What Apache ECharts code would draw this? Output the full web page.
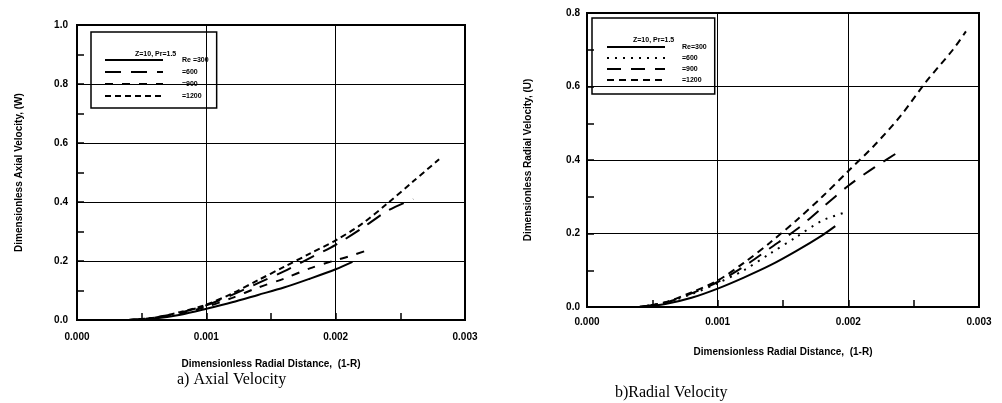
<!DOCTYPE html>
<html>
<head>
<meta charset="utf-8">
<script src="https://cdn.jsdelivr.net/npm/echarts@6/dist/echarts.min.js"></script>
<style>
  html, body { margin: 0; padding: 0; background: #fff; }
  #wrap { position: relative; width: 1002px; height: 403px; }
  .panel { position: absolute; top: 0; height: 403px; }
  #axial { left: 0; width: 500px; }
  #radial { left: 500px; width: 502px; }
</style>
</head>
<body>
<div id="wrap">
  <div id="axial" class="panel"></div>
  <div id="radial" class="panel"></div>
</div>
<script>
// values, [1-R, velocity]
const legendTitle = 'Z=10, Pr=1.5'
const reLabelsA = ['Re =300', '=600', '=900', '=1200']
const reLabelsB = ['Re=300', '=600', '=900', '=1200']
const xTicks = [0, 0.001, 0.002, 0.003]

const axialRe300 = [[0.0004, 0], [0.0006, 0.005], [0.0008, 0.018], [0.001, 0.038], [0.0012, 0.06], [0.0014, 0.085], [0.0016, 0.11], [0.0018, 0.14], [0.002, 0.172], [0.00213, 0.197]]
const axialRe600 = [[0.0004, 0], [0.0006, 0.008], [0.0008, 0.025], [0.001, 0.05], [0.0012, 0.085], [0.0014, 0.125], [0.0016, 0.165], [0.0018, 0.21], [0.002, 0.255], [0.0022, 0.31], [0.0024, 0.37], [0.0026, 0.41]]
const axialRe900 = [[0.0004, 0], [0.0006, 0.007], [0.0008, 0.022], [0.001, 0.045], [0.0012, 0.075], [0.0014, 0.11], [0.0016, 0.14], [0.0018, 0.175], [0.002, 0.203], [0.0021, 0.215], [0.00225, 0.237]]
const axialRe1200 = [[0.0004, 0], [0.0006, 0.008], [0.0008, 0.027], [0.001, 0.052], [0.0012, 0.09], [0.0014, 0.135], [0.0016, 0.18], [0.0018, 0.225], [0.002, 0.27], [0.0022, 0.325], [0.0024, 0.395], [0.0026, 0.47], [0.0028, 0.545]]

const radialRe300 = [[0.0004, 0], [0.0006, 0.008], [0.0008, 0.025], [0.001, 0.05], [0.0012, 0.08], [0.0014, 0.113], [0.0016, 0.152], [0.0018, 0.195], [0.0019, 0.22]]
const radialRe600 = [[0.0004, 0], [0.0006, 0.012], [0.0008, 0.035], [0.001, 0.065], [0.0012, 0.1], [0.0014, 0.145], [0.0016, 0.19], [0.0018, 0.235], [0.002, 0.26]]
const radialRe900 = [[0.0004, 0], [0.0006, 0.012], [0.0008, 0.037], [0.001, 0.068], [0.0012, 0.11], [0.0014, 0.16], [0.0016, 0.21], [0.0018, 0.27], [0.002, 0.33], [0.0022, 0.38], [0.00242, 0.43]]
const radialRe1200 = [[0.0004, 0], [0.0006, 0.013], [0.0008, 0.04], [0.001, 0.072], [0.0012, 0.12], [0.0014, 0.175], [0.0016, 0.235], [0.0018, 0.3], [0.002, 0.37], [0.0022, 0.44], [0.0024, 0.52], [0.0026, 0.615], [0.0028, 0.7], [0.0029, 0.75]]

const FONT = 'Liberation Sans'

function lineSeries(name, data, type) {
  return {
    name,
    type: 'line',
    data,
    symbol: 'none',
    smooth: 0.3,
    color: '#000',
    lineStyle: { color: '#000', width: 2, type }
  }
}

function buildOption(cfg) {
  return {
    animation: false,
    backgroundColor: '#fff',
    title: [
      {
        text: legendTitle,
        left: cfg.legendTitleLeft,
        top: cfg.legendTitleTop,
        textStyle: { fontFamily: FONT, fontSize: 7, fontWeight: 'bold', color: '#000' }
      },
      {
        text: cfg.caption,
        left: cfg.captionLeft,
        top: cfg.captionTop,
        textStyle: { fontFamily: 'Liberation Serif', fontSize: 16, fontWeight: 'normal', color: '#000' }
      }
    ],
    legend: {
      orient: 'vertical',
      left: cfg.legendLeft,
      top: cfg.legendTop,
      padding: cfg.legendPadding,
      borderColor: '#000',
      borderWidth: 1.5,
      itemWidth: 58,
      itemHeight: 10,
      itemGap: cfg.legendGap,
      selectedMode: false,
      itemStyle: { opacity: 0 },
      textStyle: { fontFamily: FONT, fontSize: 7, fontWeight: 'bold', color: '#000', padding: [0, 0, 0, cfg.legendTextPad] },
      data: cfg.series.map((s) => s.name)
    },
    grid: cfg.grid,
    xAxis: {
      type: 'value',
      min: 0,
      max: 0.003,
      interval: 0.001,
      name: 'Dimensionless Radial Distance,  (1-R)',
      nameLocation: 'middle',
      nameGap: cfg.xNameGap,
      nameTextStyle: { fontFamily: FONT, fontSize: 10, fontWeight: 'bold', color: '#000' },
      axisLine: { lineStyle: { color: '#000', width: 2 } },
      axisTick: { inside: true, length: 7, lineStyle: { color: '#000', width: 1.5 } },
      minorTick: { show: true, splitNumber: 2, length: 7, lineStyle: { color: '#000', width: 1.5 } },
      axisLabel: {
        margin: cfg.xLabelMargin,
        fontFamily: FONT, fontSize: 10, fontWeight: 'bold', color: '#000',
        formatter: (v) => (xTicks.includes(+v.toFixed(3)) ? v.toFixed(3) : '')
      },
      splitLine: { lineStyle: { color: '#000', width: 1 } }
    },
    yAxis: {
      type: 'value',
      min: 0,
      max: cfg.yMax,
      interval: 0.2,
      name: cfg.yName,
      nameLocation: 'middle',
      nameGap: cfg.yNameGap,
      nameTextStyle: { fontFamily: FONT, fontSize: 10, fontWeight: 'bold', color: '#000' },
      axisLine: { lineStyle: { color: '#000', width: 2 } },
      axisTick: { inside: true, length: 7, lineStyle: { color: '#000', width: 1.5 } },
      minorTick: { show: true, splitNumber: 2, length: 7, lineStyle: { color: '#000', width: 1.5 } },
      axisLabel: {
        margin: cfg.yLabelMargin,
        fontFamily: FONT, fontSize: 10, fontWeight: 'bold', color: '#000',
        formatter: (v) => v.toFixed(1)
      },
      splitLine: { lineStyle: { color: '#000', width: 1 } }
    },
    series: cfg.series
  }
}

const axialSeries = [
  lineSeries(reLabelsA[0], axialRe300, 'solid'),
  lineSeries(reLabelsA[1], axialRe600, [16, 10]),
  lineSeries(reLabelsA[2], axialRe900, [8, 9]),
  lineSeries(reLabelsA[3], axialRe1200, [6, 4])
]
const radialSeries = [
  lineSeries(reLabelsB[0], radialRe300, 'solid'),
  lineSeries(reLabelsB[1], radialRe600, [2, 6]),
  lineSeries(reLabelsB[2], radialRe900, [14, 10]),
  lineSeries(reLabelsB[3], radialRe1200, [7, 5])
]

const axialChart = echarts.init(document.getElementById('axial'))
axialChart.setOption(buildOption({
  grid: { left: 77, top: 25, width: 388, height: 295, show: true, borderColor: '#000', borderWidth: 2 },
  yMax: 1.0,
  yName: 'Dimensionless Axial Velocity, (W)',
  yNameGap: 53,
  xNameGap: 39,
  xLabelMargin: 12,
  yLabelMargin: 9,
  caption: 'a) Axial Velocity',
  captionLeft: 172,
  captionTop: 367,
  legendLeft: 91,
  legendTop: 32,
  legendPadding: [24, 8, 8, 13],
  legendGap: 4,
  legendTextPad: 14,
  legendTitleLeft: 130,
  legendTitleTop: 46,
  series: axialSeries
}))

const radialChart = echarts.init(document.getElementById('radial'))
radialChart.setOption(buildOption({
  grid: { left: 87, top: 13, width: 392, height: 294, show: true, borderColor: '#000', borderWidth: 2 },
  yMax: 0.8,
  yName: 'Dimensionless Radial Velocity, (U)',
  yNameGap: 54,
  xNameGap: 40,
  xLabelMargin: 10,
  yLabelMargin: 7,
  caption: 'b)Radial Velocity',
  captionLeft: 110,
  captionTop: 380,
  legendLeft: 92,
  legendTop: 18,
  legendPadding: [25, 8, 10, 14],
  legendGap: 3,
  legendTextPad: 12,
  legendTitleLeft: 128,
  legendTitleTop: 32,
  series: radialSeries
}))
</script>
</body>
</html>
